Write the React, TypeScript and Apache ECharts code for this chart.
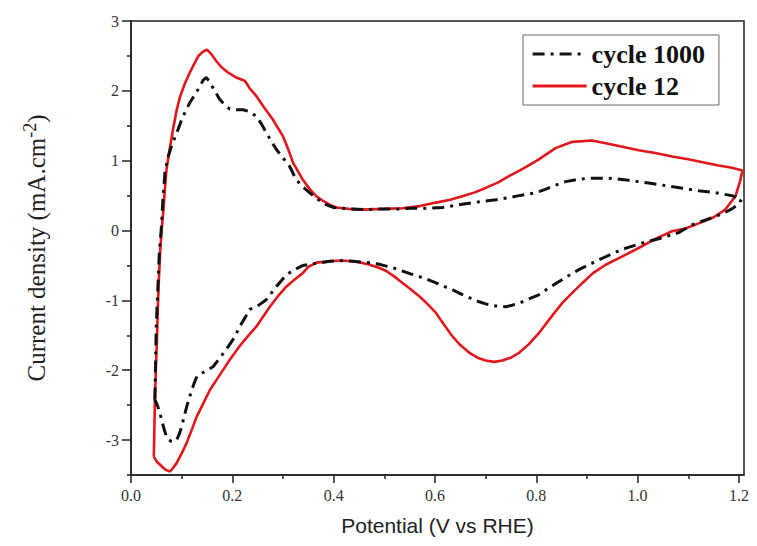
import React, { useEffect, useRef } from "react";
import * as echarts from "echarts";

// Potential (V vs RHE), current density (mA.cm-2)
const cycle12: [number, number][] = [
  [0.045, -3.24], [0.046, -2.9], [0.047, -2.5], [0.049, -2.0], [0.051, -1.6], [0.053, -1.1],
  [0.055, -0.7], [0.058, -0.25], [0.061, 0.05], [0.064, 0.3], [0.067, 0.6], [0.070, 0.87],
  [0.076, 1.15], [0.083, 1.45], [0.090, 1.72], [0.097, 1.92], [0.106, 2.1], [0.116, 2.26],
  [0.125, 2.39], [0.133, 2.5], [0.142, 2.56], [0.150, 2.59], [0.158, 2.53], [0.169, 2.42],
  [0.180, 2.33], [0.192, 2.26], [0.208, 2.19], [0.225, 2.14], [0.234, 2.04], [0.248, 1.92],
  [0.261, 1.78], [0.280, 1.59], [0.300, 1.35], [0.310, 1.17], [0.320, 0.97], [0.339, 0.73],
  [0.352, 0.6], [0.366, 0.49], [0.380, 0.42], [0.392, 0.37], [0.405, 0.33], [0.430, 0.31],
  [0.457, 0.30], [0.50, 0.31], [0.536, 0.32], [0.57, 0.35], [0.602, 0.40], [0.630, 0.44],
  [0.654, 0.49], [0.680, 0.55], [0.700, 0.61], [0.725, 0.69], [0.746, 0.78], [0.775, 0.89],
  [0.805, 1.02], [0.838, 1.18], [0.871, 1.27], [0.910, 1.29], [0.937, 1.25], [0.970, 1.2],
  [1.002, 1.15], [1.035, 1.11], [1.068, 1.06], [1.100, 1.02], [1.133, 0.97], [1.160, 0.93],
  [1.186, 0.90], [1.207, 0.86],
  [1.202, 0.70], [1.193, 0.49], [1.173, 0.30], [1.150, 0.19], [1.127, 0.12], [1.094, 0.03],
  [1.068, -0.01], [1.035, -0.12], [1.002, -0.25], [0.970, -0.37], [0.937, -0.49], [0.912, -0.61],
  [0.891, -0.75], [0.870, -0.90], [0.851, -1.04], [0.828, -1.25], [0.805, -1.47], [0.785, -1.63],
  [0.766, -1.75], [0.750, -1.82], [0.733, -1.86], [0.717, -1.88], [0.700, -1.86], [0.684, -1.82],
  [0.668, -1.75], [0.650, -1.64], [0.635, -1.52], [0.618, -1.35], [0.602, -1.18], [0.585, -1.05],
  [0.569, -0.94], [0.552, -0.84], [0.536, -0.75], [0.520, -0.66], [0.504, -0.58], [0.488, -0.53],
  [0.471, -0.49], [0.455, -0.46], [0.438, -0.44], [0.415, -0.43], [0.392, -0.44], [0.366, -0.46],
  [0.350, -0.52], [0.339, -0.61], [0.323, -0.70], [0.307, -0.80], [0.290, -0.94], [0.274, -1.09],
  [0.260, -1.24], [0.248, -1.37], [0.230, -1.52], [0.215, -1.65], [0.195, -1.85], [0.175, -2.07],
  [0.156, -2.28], [0.143, -2.47], [0.130, -2.66], [0.120, -2.85], [0.110, -3.04], [0.100, -3.19],
  [0.090, -3.33], [0.083, -3.40], [0.077, -3.45], [0.070, -3.43], [0.064, -3.40], [0.057, -3.35],
  [0.051, -3.31], [0.045, -3.24],
];

const cycle1000: [number, number][] = [
  [0.047, -2.42], [0.048, -2.1], [0.049, -1.7], [0.050, -1.35], [0.052, -1.0], [0.054, -0.65],
  [0.056, -0.3], [0.060, 0.05], [0.063, 0.45], [0.067, 0.83], [0.073, 1.05], [0.080, 1.21],
  [0.093, 1.45], [0.103, 1.64], [0.116, 1.83], [0.130, 1.99], [0.143, 2.16], [0.149, 2.19],
  [0.155, 2.13], [0.162, 2.04], [0.175, 1.88], [0.185, 1.8], [0.195, 1.74], [0.208, 1.73],
  [0.221, 1.73], [0.235, 1.70], [0.248, 1.63], [0.258, 1.52], [0.267, 1.40], [0.287, 1.16],
  [0.300, 1.04], [0.313, 0.92], [0.326, 0.73], [0.340, 0.62], [0.353, 0.54], [0.370, 0.44],
  [0.385, 0.37], [0.40, 0.33], [0.43, 0.31], [0.46, 0.30], [0.50, 0.31], [0.530, 0.31],
  [0.556, 0.32], [0.585, 0.32], [0.615, 0.33], [0.640, 0.36], [0.667, 0.39], [0.695, 0.42],
  [0.720, 0.44], [0.745, 0.47], [0.766, 0.50], [0.799, 0.54], [0.818, 0.59], [0.838, 0.65],
  [0.858, 0.70], [0.880, 0.73], [0.904, 0.75], [0.937, 0.75], [0.960, 0.74], [0.982, 0.72],
  [1.022, 0.68], [1.058, 0.64], [1.094, 0.60], [1.120, 0.57], [1.146, 0.55], [1.170, 0.52],
  [1.186, 0.50], [1.205, 0.45],
  [1.200, 0.38], [1.186, 0.31], [1.170, 0.25], [1.153, 0.20], [1.130, 0.14], [1.107, 0.08],
  [1.081, -0.03], [1.045, -0.11], [1.009, -0.18], [0.969, -0.27], [0.945, -0.35], [0.923, -0.42],
  [0.904, -0.49], [0.884, -0.56], [0.865, -0.64], [0.845, -0.73], [0.825, -0.82], [0.805, -0.92],
  [0.785, -0.98], [0.766, -1.04], [0.752, -1.07], [0.740, -1.09], [0.720, -1.08], [0.700, -1.05],
  [0.687, -1.02], [0.674, -0.98], [0.655, -0.92], [0.635, -0.85], [0.618, -0.80], [0.602, -0.75],
  [0.585, -0.70], [0.569, -0.66], [0.552, -0.62], [0.536, -0.58], [0.520, -0.54], [0.504, -0.51],
  [0.488, -0.48], [0.471, -0.46], [0.455, -0.45], [0.438, -0.44], [0.415, -0.43], [0.392, -0.44],
  [0.365, -0.47], [0.339, -0.50], [0.323, -0.56], [0.307, -0.63], [0.287, -0.80], [0.267, -0.99],
  [0.250, -1.08], [0.234, -1.13], [0.225, -1.25], [0.215, -1.37], [0.205, -1.52], [0.195, -1.63],
  [0.178, -1.80], [0.162, -1.95], [0.145, -2.02], [0.130, -2.09], [0.125, -2.18], [0.120, -2.28],
  [0.115, -2.40], [0.110, -2.52], [0.105, -2.66], [0.100, -2.81], [0.095, -2.92], [0.090, -3.00],
  [0.085, -3.02], [0.080, -3.02], [0.075, -3.00], [0.070, -2.95], [0.064, -2.81], [0.057, -2.61],
  [0.052, -2.50], [0.047, -2.42],
];

const xMajorTicks = [0, 0.2, 0.4, 0.6, 0.8, 1.0, 1.2];
const xMinorTicks = [0.1, 0.3, 0.5, 0.7, 0.9, 1.1];
const yMajorTicks = [-3, -2, -1, 0, 1, 2, 3];
const yMinorTicks = [-3.5, -2.5, -1.5, -0.5, 0.5, 1.5, 2.5];
const legendNames = ["cycle 1000", "cycle 12"];

const AXIS_COLOR = "#222";
const LABEL_FONT = "'Liberation Serif', 'Times New Roman', serif";

export default function App() {
  const ref = useRef<HTMLDivElement>(null);
  useEffect(() => {
    document.body.style.margin = "0";
    if (!ref.current) return;
    const chart = echarts.init(ref.current, undefined, { renderer: "svg" });
    const minorX = {
      type: "value", min: 0, max: 1.21, position: "bottom",
      axisLine: { show: false, onZero: false },
      axisTick: { show: true, length: 4, customValues: xMinorTicks, lineStyle: { color: AXIS_COLOR, width: 1.5 } },
      axisLabel: { show: false }, splitLine: { show: false },
    };
    const minorY = {
      type: "value", min: -3.5, max: 3, position: "left",
      axisLine: { show: false, onZero: false },
      axisTick: { show: true, length: 4, customValues: yMinorTicks, lineStyle: { color: AXIS_COLOR, width: 1.5 } },
      axisLabel: { show: false }, splitLine: { show: false },
    };
    chart.setOption({
      animation: false,
      backgroundColor: "#fff",
      grid: { left: 131, right: 13, top: 21, bottom: 71, show: true, borderColor: AXIS_COLOR, borderWidth: 1.5, backgroundColor: "transparent" },
      legend: {
        data: legendNames, orient: "vertical", left: 523, top: 35,
        borderColor: "#666", borderWidth: 1, padding: [6, 14, 6, 8], itemGap: 6,
        itemWidth: 54, itemHeight: 14,
        itemStyle: { opacity: 0 },
        lineStyle: { width: 3.2 },
        textStyle: { fontFamily: LABEL_FONT, fontWeight: "bold", fontSize: 26, color: "#111" },
      },
      xAxis: [
        {
          type: "value", min: 0, max: 1.21, position: "bottom",
          axisLine: { show: true, onZero: false, lineStyle: { color: AXIS_COLOR, width: 1.5 } },
          axisTick: { show: true, length: 8, customValues: xMajorTicks, lineStyle: { color: AXIS_COLOR, width: 1.5 } },
          axisLabel: { customValues: xMajorTicks, formatter: (v: number) => v.toFixed(1), fontFamily: LABEL_FONT, fontSize: 16, color: "#333", margin: 12 },
          splitLine: { show: false },
          name: "Potential (V vs RHE)", nameLocation: "middle", nameGap: 40,
          nameTextStyle: { fontFamily: "'Liberation Sans', Arial, sans-serif", fontSize: 21, color: "#222" },
        },
        minorX,
      ],
      yAxis: [
        {
          type: "value", min: -3.5, max: 3, position: "left",
          axisLine: { show: true, onZero: false, lineStyle: { color: AXIS_COLOR, width: 1.5 } },
          axisTick: { show: true, length: 9, customValues: yMajorTicks, lineStyle: { color: AXIS_COLOR, width: 1.5 } },
          axisLabel: { customValues: yMajorTicks, formatter: (v: number) => String(v), fontFamily: LABEL_FONT, fontSize: 16, color: "#333", margin: 12 },
          splitLine: { show: false },
          name: "Current density (mA.cm{sup|-2})", nameLocation: "middle", nameGap: 80,
          nameTextStyle: {
            fontFamily: LABEL_FONT, fontSize: 25, color: "#222",
            rich: { sup: { fontFamily: LABEL_FONT, fontSize: 18, color: "#222", verticalAlign: "top", padding: [0, 0, 12, 0] } },
          },
        },
        minorY,
      ],
      series: [
        {
          type: "line", name: "cycle 12", data: cycle12, xAxisIndex: 0, yAxisIndex: 0,
          symbol: "none", showSymbol: false,
          lineStyle: { color: "#e3161b", width: 2.6 }, itemStyle: { color: "#e3161b" },
        },
        {
          type: "line", name: "cycle 1000", data: cycle1000, xAxisIndex: 0, yAxisIndex: 0,
          symbol: "none", showSymbol: false,
          lineStyle: { color: "#111", width: 3, type: [12, 6, 3, 6] }, itemStyle: { color: "#111" },
        },
      ],
    });
    return () => chart.dispose();
  }, []);
  return <div ref={ref} style={{ width: 757, height: 546 }} />;
}
